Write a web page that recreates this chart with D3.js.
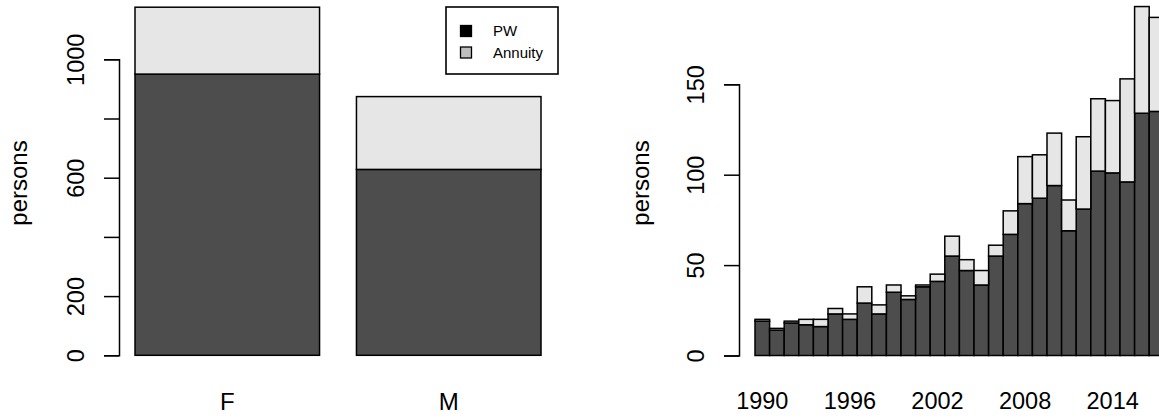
<!DOCTYPE html>
<html><head><meta charset="utf-8">
<script src="https://cdn.jsdelivr.net/npm/d3@7"></script>
<style>
body{margin:0;background:#fff}
svg{display:block}
text{font-family:"Liberation Sans",Arial,Helvetica,sans-serif;fill:#000}
</style>
</head><body>
<svg id="c" width="1159" height="418"></svg>
<script>
// ---- data ----
const sexes = ["F", "M"];
const sexPW = [950, 628];
const sexAnnuity = [226, 246];

const years = [1990,1991,1992,1993,1994,1995,1996,1997,1998,1999,2000,2001,2002,2003,
               2004,2005,2006,2007,2008,2009,2010,2011,2012,2013,2014,2015,2016,2017];
const yearPW =      [19,14,18,17,16,23,20,29,23,35,31,38,41,55,47,39,55,67,84,87,94,69,81,102,101,96,134,135];
const yearAnnuity = [ 1, 1, 1, 3, 4, 3, 3, 9, 5, 4, 2, 1, 4,11, 6, 8, 6,13,26,24,29,17,40, 40, 40,57, 59, 52];

const leftTicks = [0, 200, 400, 600, 800, 1000];
const leftTickLabels = ["0", "200", "", "600", "", "1000"];
const rightTicks = [0, 50, 100, 150];
const yearTickLabels = [1990, 1996, 2002, 2008, 2014];
const seriesNames = ["PW", "Annuity"];
const barColors = ["#4d4d4d", "#e6e6e6"];
const legendColors = ["#000000", "#bebebe"];
const yLabel = "persons";

// ---- drawing ----
const svg = d3.select("#c");
const tickFont = 23.5;
const barStroke = 1.5;

function stackRows(cats, pw, an) {
  return cats.map((c, i) => ({cat: c, PW: pw[i], Annuity: an[i]}));
}
const stack = d3.stack().keys(seriesNames);

function drawAxis(g, scale, ticks, labels, labelOffset) {
  const ax = d3.axisLeft(scale).tickValues(ticks).tickSizeOuter(0).tickSize(15)
    .tickFormat((d, i) => labels[i]);
  g.call(ax);
  g.select(".domain").attr("stroke", "#000").attr("stroke-width", 1.5);
  g.selectAll(".tick line").attr("stroke", "#000").attr("stroke-width", 1.5);
  g.selectAll(".tick text")
    .attr("x", null).attr("y", null).attr("dy", "0.36em")
    .attr("text-anchor", "middle")
    .attr("transform", `translate(${-labelOffset},0) rotate(-90)`)
    .style("font-size", tickFont + "px")
    .style("font-family", '"Liberation Sans",Arial,sans-serif')
    .attr("fill", "#000");
}

function yTitle(x, y) {
  svg.append("text")
    .attr("transform", `translate(${x},${y}) rotate(-90)`)
    .attr("text-anchor", "middle").attr("dy", "0.36em")
    .style("font-size", "24px").text(yLabel);
}

// Left panel
const xL = d3.scaleBand().domain(sexes).range([135, 541]).paddingInner(1/6).paddingOuter(0);
const yL = d3.scaleLinear().domain([0, 1000]).range([355.3, 59.3]);
const leftSeries = stack(stackRows(sexes, sexPW, sexAnnuity));
const gL = svg.append("g");
leftSeries.forEach((s, si) => {
  gL.selectAll(null).data(s).enter().append("rect")
    .attr("x", d => xL(d.data.cat))
    .attr("width", xL.bandwidth())
    .attr("y", d => yL(d[1]))
    .attr("height", d => yL(d[0]) - yL(d[1]))
    .attr("fill", barColors[si]).attr("stroke", "#000").attr("stroke-width", barStroke);
});
drawAxis(svg.append("g").attr("transform", "translate(119,0)"), yL, leftTicks, leftTickLabels, 43);
svg.append("g").selectAll("text").data(sexes).enter().append("text")
  .attr("x", d => xL(d) + xL.bandwidth() / 2).attr("y", 410)
  .attr("text-anchor", "middle").style("font-size", "24px").text(d => d);
yTitle(18.5, 183);

// Legend
const lg = svg.append("g");
lg.append("rect").attr("x", 446).attr("y", 7).attr("width", 112).attr("height", 67)
  .attr("fill", "#fff").attr("stroke", "#000").attr("stroke-width", 1.6);
seriesNames.forEach((n, i) => {
  const cy = 31 + i * 21.5;
  lg.append("rect").attr("x", 460.5).attr("y", cy - 5.5).attr("width", 11).attr("height", 11)
    .attr("fill", legendColors[i]).attr("stroke", "#000").attr("stroke-width", 1.3);
  lg.append("text").attr("x", 493).attr("y", cy).attr("dy", "0.36em")
    .style("font-size", "15px").text(n);
});

// Right panel
const xR = d3.scaleBand().domain(years).range([755, 755 + years.length * 14.6]).padding(0);
const yR = d3.scaleLinear().domain([0, 150]).range([355.5, 84.3]);
const rightSeries = stack(stackRows(years, yearPW, yearAnnuity));
const gR = svg.append("g");
rightSeries.forEach((s, si) => {
  gR.selectAll(null).data(s).enter().append("rect")
    .attr("x", d => xR(d.data.cat))
    .attr("width", xR.bandwidth())
    .attr("y", d => yR(d[1]))
    .attr("height", d => yR(d[0]) - yR(d[1]))
    .attr("fill", barColors[si]).attr("stroke", "#000").attr("stroke-width", barStroke);
});
drawAxis(svg.append("g").attr("transform", "translate(739,0)"), yR, rightTicks, rightTicks.map(String), 43);
svg.append("g").selectAll("text").data(yearTickLabels).enter().append("text")
  .attr("x", d => xR(d) + xR.bandwidth() / 2).attr("y", 409)
  .attr("text-anchor", "middle").style("font-size", tickFont + "px").text(d => d);
yTitle(640, 183);
</script>
</body></html>
